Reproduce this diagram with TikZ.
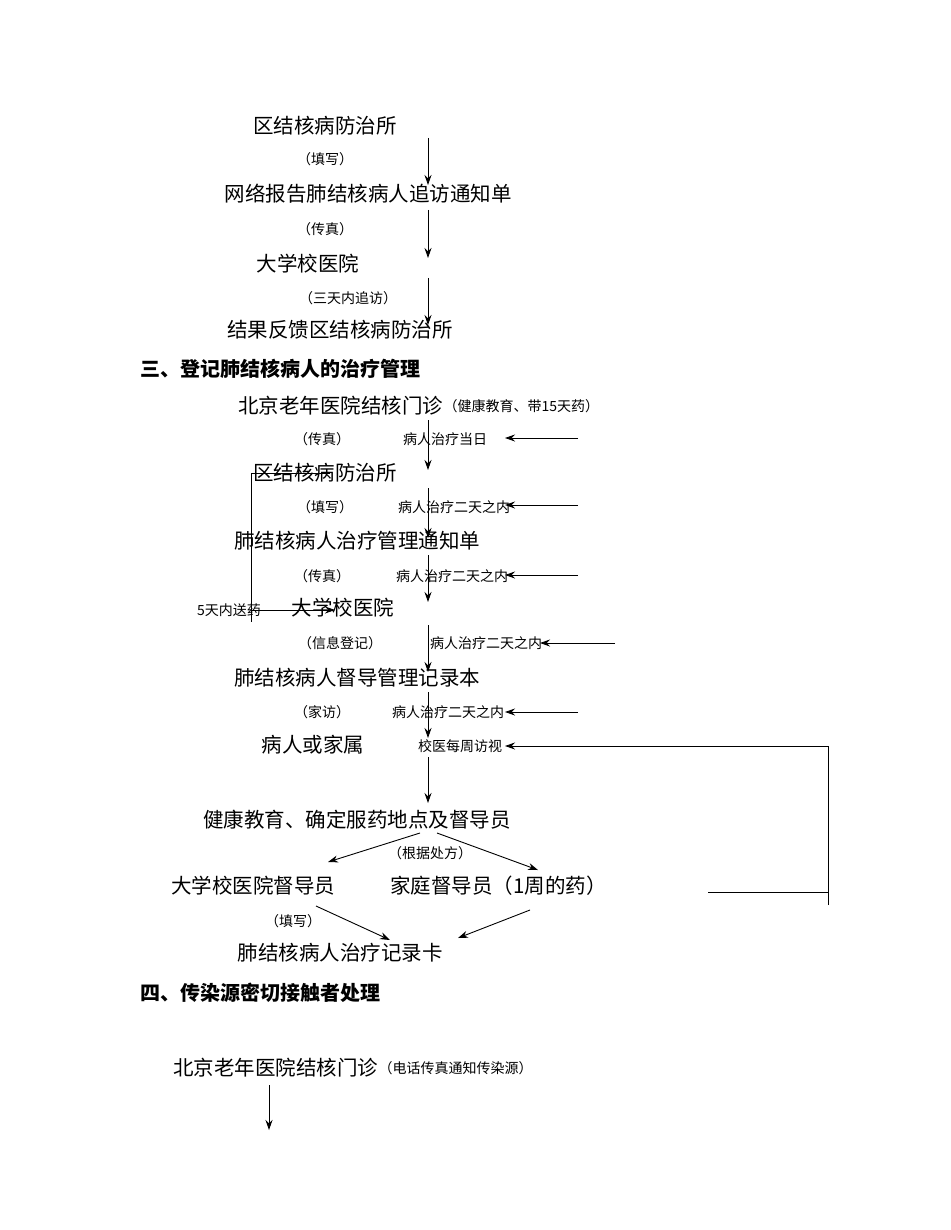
\documentclass[tikz,border=0pt]{standalone}
\usepackage{fontspec}
\setmainfont{Liberation Serif}
\newfontfamily\cjk{Noto Sans CJK SC}
\usetikzlibrary{arrows.meta}
\begin{document}
\begin{tikzpicture}[x=1pt,y=-1pt,
 big/.style={font=\cjk\fontsize{20.5}{21}\selectfont,inner sep=0pt},
 sm/.style={font=\cjk\fontsize{14}{14}\selectfont,inner sep=0pt},
 hd/.style={font=\cjk\bfseries\fontsize{20}{20}\selectfont,inner sep=0pt,anchor=west},
 ar/.style={-{Stealth[length=10pt,width=7pt]},line width=0.9pt},
 ln/.style={line width=0.9pt}]
\useasboundingbox (0,0) rectangle (950,1230);
\node[big] (a1) at (325,126) {区结核病防治所};
\node[sm] (a1l) at (325,159) {（填写）};
\node[big] (a2) at (368,194) {网络报告肺结核病人追访通知单};
\node[sm] (a2l) at (325,229) {（传真）};
\node[big] (a3) at (308,264) {大学校医院};
\node[sm] (a3l) at (348,298) {（三天内追访）};
\node[big] (a4) at (340,330) {结果反馈区结核病防治所};
\coordinate (p1) at (428,138); \coordinate (q1) at (428,185);
\coordinate (p2) at (428,210); \coordinate (q2) at (428,258);
\coordinate (p3) at (428,278); \coordinate (q3) at (428,325);
\draw[ar] (p1)--(q1); \draw[ar] (p2)--(q2); \draw[ar] (p3)--(q3);

\node[hd] (h3) at (140,369) {三、登记肺结核病人的治疗管理};
\node[big,anchor=west] (b1) at (238,406) {北京老年医院结核门诊};
\node[sm,anchor=west] (b1n) at (b1.east) {（健康教育、带15天药）};
\node[sm] (b1l) at (322,439) {（传真）};
\node[sm] (b1r) at (445,439) {病人治疗当日};
\node[big] (b2) at (325,473) {区结核病防治所};
\node[sm] (b2l) at (325,507) {（填写）};
\node[sm,anchor=west] (b2r) at (398,507) {病人治疗二天之内};
\node[big] (b3) at (357,541) {肺结核病人治疗管理通知单};
\node[sm] (b3l) at (322,576) {（传真）};
\node[sm,anchor=west] (b3r) at (396,576) {病人治疗二天之内};
\node[sm,anchor=west] (b4n) at (197,610) {5天内送药};
\node[big] (b4) at (343,608) {大学校医院};
\node[sm] (b4l) at (340,643) {（信息登记）};
\node[sm,anchor=west] (b4r) at (430,643) {病人治疗二天之内};
\node[big] (b5) at (357,678) {肺结核病人督导管理记录本};
\node[sm] (b5l) at (322,712) {（家访）};
\node[sm,anchor=west] (b5r) at (392,712) {病人治疗二天之内};
\node[big] (b6) at (313,745) {病人或家属};
\node[sm,anchor=west] (b6r) at (418,746) {校医每周访视};
\node[big] (b7) at (357,820) {健康教育、确定服药地点及督导员};
\node[sm] (b7l) at (430,853) {（根据处方）};
\node[big] (c1) at (253,886) {大学校医院督导员};
\node[big,anchor=west] (c2) at (390,886) {家庭督导员（1周的药）};
\node[sm] (c1l) at (293,921) {（填写）};
\node[big] (c3) at (340,953) {肺结核病人治疗记录卡};

\foreach \ya/\yb in {420/470,488/538,555/602,625/672,692/738,757/803}
  \draw[ar] (428,\ya)--(428,\yb);
\foreach \xa/\xb/\y in {578/505/438,578/505/505,578/505/575,615/540/643,578/505/712}
  \draw[ar] (\xa,\y)--(\xb,\y);
\coordinate (k1) at (251,473); \coordinate (k2) at (251,622); \coordinate (k3) at (330,473);
\draw[ln] (k3)--(k1)--(k2);
\draw[ar] (251,610)--(335,610);
\coordinate (r1) at (828,905); \coordinate (r2) at (828,746); \coordinate (r3) at (505,746);
\draw[ar] (r1)--(r2)--(r3);
\draw[ln] (708,892)--(828,892);
\draw[ar] (420,833)--(328,862);
\draw[ar] (437,833)--(538,870);
\draw[ar] (316,906)--(390,940);
\draw[ar] (530,910)--(458,938);

\node[hd] (h4) at (140,993) {四、传染源密切接触者处理};
\node[big,anchor=west] (d1) at (173,1068) {北京老年医院结核门诊};
\node[sm,anchor=west] (d1n) at (d1.east) {（电话传真通知传染源）};
\coordinate (e1) at (269,1085); \coordinate (e2) at (269,1130);
\draw[ar] (e1)--(e2);
\end{tikzpicture}
\end{document}
